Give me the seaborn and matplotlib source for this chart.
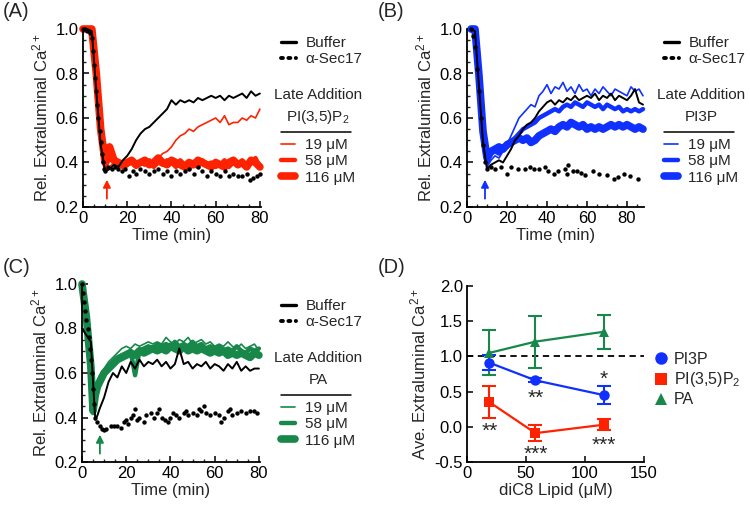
import numpy as np
import matplotlib
matplotlib.use("Agg")
import matplotlib.pyplot as plt
from matplotlib.lines import Line2D
from matplotlib.ticker import MultipleLocator, FormatStrFormatter
import seaborn as sns

# ---- data ----
# (A) late addition of PI(3,5)P2
t_a = np.arange(0, 81, 2)
a_buffer = [1.00, 1.00, 0.99, 0.72, 0.48, 0.36, 0.37, 0.39, 0.38, 0.41,
            0.43, 0.46, 0.50, 0.53, 0.55, 0.56, 0.58, 0.60, 0.62, 0.64,
            0.68, 0.66, 0.68, 0.67, 0.68, 0.67, 0.69, 0.68, 0.69, 0.70,
            0.69, 0.70, 0.68, 0.70, 0.69, 0.70, 0.71, 0.69, 0.72, 0.70,
            0.71]
a_19 = [1.00, 1.00, 1.00, 0.74, 0.50, 0.37, 0.38, 0.40, 0.39, 0.39,
        0.38, 0.40, 0.39, 0.40, 0.39, 0.40, 0.41, 0.42, 0.44, 0.45,
        0.47, 0.50, 0.52, 0.53, 0.55, 0.54, 0.56, 0.57, 0.58, 0.59,
        0.60, 0.58, 0.61, 0.57, 0.58, 0.58, 0.60, 0.59, 0.61, 0.60,
        0.64]
a_58 = [1.00, 1.00, 1.00, 0.78, 0.52, 0.38, 0.42, 0.40, 0.39, 0.38,
        0.39, 0.40, 0.38, 0.40, 0.39, 0.41, 0.38, 0.40, 0.39, 0.41,
        0.40, 0.38, 0.41, 0.39, 0.37, 0.40, 0.38, 0.41, 0.39, 0.40,
        0.38, 0.39, 0.41, 0.38, 0.40, 0.39, 0.41, 0.38, 0.40, 0.42,
        0.38]
a_116 = [1.00, 1.00, 1.00, 0.80, 0.55, 0.40, 0.47, 0.41, 0.40, 0.39,
         0.40, 0.41, 0.39, 0.40, 0.41, 0.39, 0.40, 0.42, 0.40, 0.39,
         0.41, 0.40, 0.39, 0.38, 0.40, 0.39, 0.41, 0.40, 0.39, 0.38,
         0.40, 0.39, 0.38, 0.40, 0.41, 0.39, 0.40, 0.38, 0.41, 0.40,
         0.38]
t_a_sec = [0, 1, 2, 3, 4, 4.5, 5, 5.5, 6, 6.5, 7, 7.5, 8, 8.5, 9, 9.5, 10,
           11.5, 13, 14.5, 16, 17.5, 19, 21, 22.5, 24, 26, 28, 30, 32, 34,
           36, 38, 40, 42, 44, 46, 48, 50, 52, 54, 56, 58, 60, 62, 64, 66,
           68, 70, 72, 74, 75.5, 77, 78.5, 80]
a_sec = [1.00, 1.00, 0.99, 0.98, 0.96, 0.90, 0.84, 0.78, 0.72, 0.66, 0.60,
         0.54, 0.49, 0.44, 0.40, 0.37, 0.36,
         0.38, 0.37, 0.38, 0.37, 0.36, 0.37, 0.34, 0.36, 0.35, 0.37, 0.36,
         0.35, 0.36, 0.37, 0.35, 0.36, 0.34, 0.36, 0.35, 0.36, 0.37, 0.35,
         0.38, 0.36, 0.34, 0.36, 0.35, 0.34, 0.36, 0.34, 0.35, 0.34, 0.34,
         0.35, 0.32, 0.33, 0.34, 0.35]

# (B) late addition of PI3P
t_b = np.arange(2, 89, 2)
b_buffer = [1.00, 0.99, 0.74, 0.49, 0.37, 0.39, 0.40, 0.41, 0.40, 0.43,
            0.46, 0.50, 0.52, 0.55, 0.57, 0.58, 0.60, 0.63, 0.65, 0.67,
            0.68, 0.66, 0.68, 0.67, 0.69, 0.68, 0.70, 0.68, 0.69, 0.70,
            0.69, 0.71, 0.68, 0.70, 0.69, 0.71, 0.68, 0.70, 0.69, 0.68,
            0.70, 0.73, 0.67, 0.66]
b_19 = [1.00, 1.00, 0.76, 0.50, 0.38, 0.41, 0.43, 0.42, 0.45, 0.48,
        0.52, 0.56, 0.60, 0.62, 0.64, 0.66, 0.65, 0.70, 0.72, 0.75,
        0.71, 0.74, 0.73, 0.76, 0.72, 0.74, 0.71, 0.75, 0.72, 0.73,
        0.70, 0.73, 0.71, 0.74, 0.72, 0.70, 0.73, 0.72, 0.71, 0.70,
        0.74, 0.72, 0.73, 0.70]
b_58 = [1.00, 1.00, 0.77, 0.52, 0.40, 0.44, 0.45, 0.44, 0.46, 0.47,
        0.49, 0.51, 0.53, 0.55, 0.56, 0.57, 0.58, 0.60, 0.61, 0.62,
        0.63, 0.64, 0.63, 0.65, 0.66, 0.65, 0.67, 0.66, 0.65, 0.67,
        0.66, 0.65, 0.66, 0.64, 0.66, 0.65, 0.64, 0.65, 0.63, 0.64,
        0.63, 0.64, 0.63, 0.64]
b_116 = [1.00, 1.00, 0.79, 0.54, 0.42, 0.45, 0.46, 0.47, 0.46, 0.48,
         0.49, 0.50, 0.51, 0.50, 0.51, 0.49, 0.50, 0.52, 0.53, 0.54,
         0.55, 0.54, 0.56, 0.57, 0.56, 0.58, 0.57, 0.56, 0.57, 0.55,
         0.56, 0.55, 0.56, 0.55, 0.56, 0.57, 0.56, 0.57, 0.56, 0.57,
         0.56, 0.55, 0.56, 0.55]
t_b_sec = [2, 3, 4, 5, 6, 7, 8, 9, 10, 12, 14, 17, 20, 22, 25.5, 29, 31.5,
           33.5, 36, 39, 40.5, 43.5, 45.5, 49, 50.2, 50.7, 53, 55, 57, 59,
           63, 66, 70, 73.5, 75.5, 78.5, 81.5, 85.5]
b_sec = [1.00, 0.97, 0.92, 0.82, 0.72, 0.60, 0.48, 0.40, 0.37, 0.38, 0.37,
         0.38, 0.35, 0.38, 0.37, 0.37, 0.38, 0.37, 0.37, 0.38, 0.36, 0.35,
         0.36, 0.37, 0.35, 0.39, 0.36, 0.36, 0.355, 0.345, 0.36, 0.35,
         0.345, 0.325, 0.335, 0.35, 0.34, 0.325]

# (C) late addition of PA
t_c = np.array([0, 2, 4, 5, 6, 7, 8] + list(range(10, 81, 2)))
c_buffer = [0.80, 0.77, 0.74, 0.56, 0.39, 0.41, 0.44,
            0.49, 0.56, 0.60, 0.58, 0.63, 0.60, 0.65, 0.62, 0.66, 0.63,
            0.65, 0.64, 0.66, 0.63, 0.65, 0.62, 0.64, 0.71, 0.64, 0.65,
            0.62, 0.64, 0.63, 0.65, 0.62, 0.64, 0.63, 0.61, 0.64, 0.62,
            0.65, 0.61, 0.63, 0.61, 0.62, 0.62]
c_19 = [1.00, 0.87, 0.65, 0.44, 0.53, 0.57, 0.59,
        0.62, 0.65, 0.67, 0.69, 0.71, 0.72, 0.71, 0.73, 0.72, 0.73,
        0.74, 0.73, 0.74, 0.73, 0.76, 0.74, 0.73, 0.75, 0.74, 0.76,
        0.73, 0.74, 0.75, 0.73, 0.74, 0.72, 0.73, 0.72, 0.74, 0.72,
        0.71, 0.73, 0.71, 0.72, 0.73, 0.70]
c_58 = [1.00, 0.86, 0.64, 0.42, 0.51, 0.55, 0.57,
        0.61, 0.63, 0.65, 0.67, 0.68, 0.69, 0.70, 0.59, 0.70, 0.71,
        0.72, 0.71, 0.73, 0.72, 0.73, 0.72, 0.74, 0.72, 0.73, 0.72,
        0.74, 0.72, 0.73, 0.71, 0.72, 0.71, 0.72, 0.70, 0.71, 0.70,
        0.72, 0.70, 0.69, 0.71, 0.70, 0.71]
c_116 = [1.00, 0.85, 0.63, 0.43, 0.50, 0.54, 0.56,
         0.60, 0.62, 0.64, 0.66, 0.67, 0.68, 0.69, 0.68, 0.70, 0.69,
         0.70, 0.71, 0.70, 0.71, 0.70, 0.72, 0.71, 0.70, 0.72, 0.70,
         0.71, 0.70, 0.71, 0.70, 0.69, 0.70, 0.69, 0.70, 0.68, 0.69,
         0.68, 0.69, 0.68, 0.67, 0.69, 0.68]
t_c_sec = [0, 0.5, 1, 1.5, 2, 2.5, 3, 3.5, 4, 4.5, 5, 5.5, 6, 7, 8, 9, 10,
           11, 13, 14.5, 16, 17.5, 19, 20, 21, 22, 23, 24, 25, 26, 28, 29,
           31, 32.5, 34, 35, 36, 37.5, 39, 40, 41, 42.5, 44, 46, 47, 48, 50,
           52, 53, 54, 55, 56, 58, 60, 62, 63, 64, 66, 67, 68, 70, 72, 74,
           76, 78, 79]
c_sec = [1.00, 0.96, 0.92, 0.88, 0.84, 0.80, 0.76, 0.71, 0.66, 0.60, 0.53,
         0.46, 0.40, 0.38, 0.36, 0.35, 0.345, 0.35, 0.36, 0.36, 0.36, 0.355,
         0.38, 0.39, 0.37, 0.40, 0.41, 0.44, 0.39, 0.40, 0.38, 0.41, 0.42,
         0.40, 0.42, 0.44, 0.40, 0.39, 0.38, 0.40, 0.42, 0.41, 0.40, 0.42,
         0.43, 0.41, 0.42, 0.41, 0.44, 0.43, 0.45, 0.42, 0.41, 0.42, 0.41,
         0.38, 0.40, 0.43, 0.44, 0.41, 0.42, 0.43, 0.42, 0.43, 0.43, 0.42]

# (D) average extraluminal Ca2+ vs lipid concentration
conc = [19, 58, 116]
d_pi3p = [0.91, 0.66, 0.45]
d_pi3p_err = [0.11, 0.03, 0.13]
d_pi35p2 = [0.35, -0.09, 0.03]
d_pi35p2_err = [0.23, 0.11, 0.08]
d_pa = [1.05, 1.21, 1.35]
d_pa_err = [0.32, 0.37, 0.24]
stars = [("**", 19, 0.03), ("**", 58, 0.49), ("*", 116, 0.76),
         ("***", 58, -0.30), ("***", 116, -0.17)]

conc_labels = ["19 μM", "58 μM", "116 μM"]
conc_widths = [1.2, 3.2, 5.5]

RED = "#ff2200"
BLUE = "#1030ff"
GREEN = "#17884a"

# ---- style ----
sns.set_style("ticks")
plt.rcParams["font.family"] = ["Liberation Sans", "DejaVu Sans"]
plt.rcParams["mathtext.fontset"] = "custom"
plt.rcParams["mathtext.rm"] = "Liberation Sans"
plt.rcParams["mathtext.it"] = "Liberation Sans:italic"
FS = 12      # ticks and axis labels
FL = 11      # legends

W, H = 750, 509
fig = plt.figure(figsize=(7.5, 5.09), dpi=100)


def px_axes(x0, y0, x1, y1):
    return fig.add_axes([x0 / W, 1 - y1 / H, (x1 - x0) / W, (y1 - y0) / H])


def style_axes(ax):
    sns.despine(ax=ax)
    for s in ["left", "bottom"]:
        ax.spines[s].set_linewidth(1.3)
        ax.spines[s].set_color("black")
    ax.tick_params(direction="in", which="major", length=4, width=1.1,
                   labelsize=FS, colors="black", pad=3)
    ax.tick_params(direction="in", which="minor", length=2.5, width=1.0)


def trace_panel(ax, t, buf, s19, s58, s116, t_sec, sec, color, xmax, arrow_t):
    for vals, lw in zip([s116, s58, s19], conc_widths[::-1]):
        sns.lineplot(x=t, y=vals, ax=ax, color=color, linewidth=lw,
                     errorbar=None, clip_on=False)
    sns.lineplot(x=t, y=buf, ax=ax, color="black", linewidth=1.4,
                 errorbar=None, clip_on=False)
    sns.scatterplot(x=t_sec, y=sec, ax=ax, color="black", s=10, linewidth=0,
                    clip_on=False, zorder=5)
    ax.annotate("", xy=(arrow_t, 0.335), xytext=(arrow_t, 0.225),
                arrowprops=dict(arrowstyle="-|>", color=color, lw=1.3,
                                mutation_scale=11))
    ax.set_xlim(0, xmax)
    ax.set_ylim(0.2, 1.0)
    ax.xaxis.set_major_locator(MultipleLocator(20))
    ax.xaxis.set_minor_locator(MultipleLocator(5))
    ax.yaxis.set_major_locator(MultipleLocator(0.2))
    ax.yaxis.set_minor_locator(MultipleLocator(0.05))
    ax.yaxis.set_major_formatter(FormatStrFormatter("%.1f"))
    ax.set_xlabel("Time (min)", fontsize=FS, labelpad=1)
    ax.set_ylabel("Rel. Extraluminal Ca$^{2+}$", fontsize=FS, labelpad=4)
    style_axes(ax)


def trace_legend(ax, color, lipid, x0, y0, xc):
    h_buf = Line2D([], [], color="black", lw=2.4)
    h_sec = Line2D([], [], color="black", lw=2.8, ls=(0, (0.5, 1.4)),
                   dash_capstyle="round")
    leg1 = ax.legend([h_buf, h_sec], ["Buffer", "α-Sec17"], loc="upper left",
                     bbox_to_anchor=(x0 / W, 1 - y0 / H),
                     bbox_transform=fig.transFigure, frameon=False,
                     fontsize=FL, handlelength=1.0, handletextpad=0.6,
                     labelspacing=0.15, borderpad=0, borderaxespad=0)
    ax.add_artist(leg1)
    fig.text(xc / W, 1 - (y0 + 59) / H, "Late Addition", ha="center",
             va="center", fontsize=FL)
    fig.text(xc / W, 1 - (y0 + 81) / H, lipid, ha="center", va="center",
             fontsize=FL)
    fig.add_artist(Line2D([(xc - 37) / W, (xc + 33) / W],
                          [1 - (y0 + 96) / H] * 2, color="black", lw=1.1))
    hs = [Line2D([], [], color=color, lw=lw) for lw in conc_widths]
    ax.legend(hs, conc_labels, loc="upper left",
              bbox_to_anchor=(x0 / W, 1 - (y0 + 102) / H),
              bbox_transform=fig.transFigure, frameon=False, fontsize=FL,
              handlelength=0.9, handletextpad=0.7, labelspacing=0.15,
              borderpad=0, borderaxespad=0)


# (A)
ax_a = px_axes(83, 29, 261, 207)
trace_panel(ax_a, t_a, a_buffer, a_19, a_58, a_116, t_a_sec, a_sec, RED,
            80.5, 10.8)
trace_legend(ax_a, RED, "PI(3,5)P$_2$", 281, 36, 318)

# (B)
ax_b = px_axes(467, 29, 644, 207)
trace_panel(ax_b, t_b, b_buffer, b_19, b_58, b_116, t_b_sec, b_sec, BLUE,
            88.5, 9.0)
trace_legend(ax_b, BLUE, "PI3P", 664, 36, 701)

# (C)
ax_c = px_axes(82, 284, 260, 462)
trace_panel(ax_c, t_c, c_buffer, c_19, c_58, c_116, t_c_sec, c_sec, GREEN,
            80.5, 8.1)
trace_legend(ax_c, GREEN, "PA", 281, 299, 318)

# (D)
ax_d = px_axes(467, 286, 644, 462)
ax_d.axhline(1.0, color="black", lw=1.3, ls=(0, (3.5, 2.5)), zorder=1)
for y, err, col, mk in [(d_pa, d_pa_err, GREEN, "^"),
                        (d_pi3p, d_pi3p_err, BLUE, "o"),
                        (d_pi35p2, d_pi35p2_err, RED, "s")]:
    ax_d.errorbar(conc, y, yerr=err, fmt="none", ecolor=col, elinewidth=1.5,
                  capsize=5, capthick=1.5, zorder=2)
    sns.lineplot(x=conc, y=y, ax=ax_d, color=col, linewidth=1.6, marker=mk,
                 markersize=7.5, markeredgewidth=0, errorbar=None, zorder=3)
# asterisks: glyph sits high, so put the baseline below the target value
for txt, x, y in stars:
    ax_d.text(x, y - 0.17, txt, ha="center", va="baseline", fontsize=15)
ax_d.set_xlim(0, 150)
ax_d.set_ylim(-0.5, 2.0)
ax_d.xaxis.set_major_locator(MultipleLocator(50))
ax_d.yaxis.set_major_locator(MultipleLocator(0.5))
ax_d.yaxis.set_major_formatter(FormatStrFormatter("%.1f"))
ax_d.set_xlabel("diC8 Lipid (μM)", fontsize=FS, labelpad=1)
ax_d.set_ylabel("Ave. Extraluminal Ca$^{2+}$", fontsize=FS, labelpad=4)
style_axes(ax_d)
d_handles = [Line2D([], [], color=BLUE, marker="o", ls="none", ms=9, mew=0),
             Line2D([], [], color=RED, marker="s", ls="none", ms=9, mew=0),
             Line2D([], [], color=GREEN, marker="^", ls="none", ms=9, mew=0)]
ax_d.legend(d_handles, ["PI3P", "PI(3,5)P$_2$", "PA"], loc="upper left",
            bbox_to_anchor=(655 / W, 1 - 352 / H),
            bbox_transform=fig.transFigure, frameon=False, fontsize=11.5,
            handlelength=0.8, handletextpad=0.4, labelspacing=0.2,
            borderpad=0, borderaxespad=0)

# panel letters
for lbl, x, y in [("(A)", 3, 2), ("(B)", 378, 2), ("(C)", 3, 258),
                  ("(D)", 378, 258)]:
    fig.text(x / W, 1 - y / H, lbl, ha="left", va="top", fontsize=14.5)

fig.savefig("out.png", dpi=100)
